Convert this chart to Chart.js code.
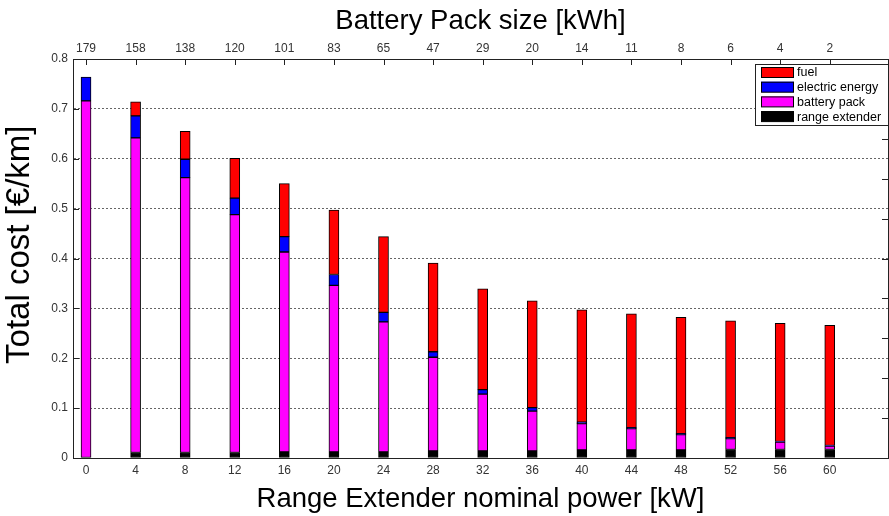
<!DOCTYPE html>
<html>
<head>
<meta charset="utf-8">
<script src="https://cdn.jsdelivr.net/npm/chart.js@4.4.1/dist/chart.umd.min.js"></script>
<style>
  html, body { margin: 0; padding: 0; background: #fff; }
  #wrap { width: 889px; height: 516px; }
</style>
</head>
<body>
<div id="wrap"><canvas id="chart"></canvas></div>
<script>
// range extender nominal power [kW] (bottom axis) and matching battery pack size [kWh] (top axis)
const powers = [0, 4, 8, 12, 16, 20, 24, 28, 32, 36, 40, 44, 48, 52, 56, 60];
const packSize = [179, 158, 138, 120, 101, 83, 65, 47, 29, 20, 14, 11, 8, 6, 4, 2];

// cost components [€/km], stacked bottom -> top
const rangeExtender = [0, 0.011, 0.011, 0.011, 0.012, 0.012, 0.012, 0.014, 0.014, 0.014, 0.016, 0.016, 0.016, 0.017, 0.017, 0.017];
const batteryPack = [0.716, 0.631, 0.551, 0.477, 0.401, 0.334, 0.261, 0.188, 0.114, 0.080, 0.053, 0.043, 0.031, 0.022, 0.015, 0.007];
const electricEnergy = [0.048, 0.044, 0.037, 0.033, 0.031, 0.022, 0.019, 0.011, 0.009, 0.007, 0.003, 0.002, 0.002, 0.002, 0.001, 0.001];
const fuel = [0, 0.028, 0.056, 0.080, 0.106, 0.129, 0.152, 0.178, 0.202, 0.214, 0.225, 0.228, 0.233, 0.234, 0.237, 0.241];

const FONT = '"Liberation Sans", Arial, sans-serif';

function series(label, values, color) {
    return {
        label: label,
        data: powers.map((p, i) => ({ x: p, y: values[i] })),
        backgroundColor: color,
        borderColor: '#000',
        borderWidth: 1,
        borderSkipped: false,
        barThickness: 10,
        xAxisID: 'x',
        yAxisID: 'y'
    };
}

// MATLAB style inward ticks on top, left and right axes
const inwardTicks = {
    id: 'inwardTicks',
    afterDraw(chart) {
        const ctx = chart.ctx;
        const area = chart.chartArea;
        const x = chart.scales.x;
        const y = chart.scales.y;
        const y2 = chart.scales.y2;
        ctx.save();
        ctx.strokeStyle = '#222';
        ctx.lineWidth = 1;
        ctx.beginPath();
        for (const p of powers) {
            const px = Math.round(x.getPixelForValue(p)) + 0.5;
            ctx.moveTo(px, area.top);
            ctx.lineTo(px, area.top + 6);
        }
        for (const t of y.ticks) {
            const py = Math.round(y.getPixelForValue(t.value)) + 0.5;
            ctx.moveTo(area.left, py);
            ctx.lineTo(area.left + 6, py);
        }
        for (const t of y2.ticks) {
            const py = Math.round(y2.getPixelForValue(t.value)) + 0.5;
            ctx.moveTo(area.right, py);
            ctx.lineTo(area.right - 6, py);
        }
        ctx.stroke();
        ctx.restore();
    }
};

// boxed legend in the upper right corner of the plot
const boxLegend = {
    id: 'boxLegend',
    afterDraw(chart) {
        const ctx = chart.ctx;
        const area = chart.chartArea;
        const items = chart.data.datasets.slice().reverse();
        const left = 755, top = 64, rowH = 14.7;
        ctx.save();
        ctx.fillStyle = '#fff';
        ctx.fillRect(left, top, area.right - left, 62);
        ctx.strokeStyle = '#222';
        ctx.lineWidth = 1;
        ctx.strokeRect(left + 0.5, top + 0.5, area.right - left, 61);
        ctx.font = '12.5px ' + FONT;
        ctx.textBaseline = 'middle';
        items.forEach((ds, i) => {
            const ry = top + 3 + i * rowH;
            ctx.fillStyle = ds.backgroundColor;
            ctx.fillRect(left + 6, ry, 33, 10.5);
            ctx.strokeStyle = '#000';
            ctx.strokeRect(left + 6.5, ry + 0.5, 32, 10);
            ctx.fillStyle = '#000';
            ctx.fillText(ds.label, left + 42, ry + 6);
        });
        ctx.restore();
    }
};

new Chart(document.getElementById('chart'), {
    type: 'bar',
    data: {
        datasets: [
            series('range extender', rangeExtender, '#000000'),
            series('battery pack', batteryPack, '#ff00ff'),
            series('electric energy', electricEnergy, '#0000ff'),
            series('fuel', fuel, '#ff0000')
        ]
    },
    options: {
        responsive: true,
        maintainAspectRatio: false,
        animation: false,
        layout: { padding: 0 },
        plugins: {
            legend: { display: false },
            tooltip: { enabled: false }
        },
        scales: {
            x: {
                type: 'linear',
                position: 'bottom',
                stacked: true,
                offset: false,
                min: -1.05,
                max: 64.7,
                afterBuildTicks: (s) => { s.ticks = powers.map(v => ({ value: v })); },
                afterFit: (s) => { s.height = 58; },
                ticks: {
                    padding: 5,
                    color: '#333',
                    font: { family: FONT, size: 12 },
                    callback: (v) => String(v)
                },
                grid: { drawOnChartArea: false, drawTicks: false },
                border: { color: '#222', width: 1 },
                title: {
                    display: true,
                    text: 'Range Extender nominal power [kW]',
                    color: '#000',
                    font: { family: FONT, size: 27.5 },
                    padding: { top: 0, bottom: 0 }
                }
            },
            x2: {
                type: 'linear',
                position: 'top',
                offset: false,
                min: -1.05,
                max: 64.7,
                afterBuildTicks: (s) => { s.ticks = powers.map(v => ({ value: v })); },
                afterFit: (s) => { s.height = 59; },
                ticks: {
                    padding: 3,
                    color: '#333',
                    font: { family: FONT, size: 12 },
                    callback: (v) => String(packSize[powers.indexOf(v)])
                },
                grid: { drawOnChartArea: false, drawTicks: false },
                border: { color: '#222', width: 1 },
                title: {
                    display: true,
                    text: 'Battery Pack size [kWh]',
                    color: '#000',
                    font: { family: FONT, size: 27.5 },
                    padding: { top: 5, bottom: 0 }
                }
            },
            y: {
                stacked: true,
                min: 0,
                max: 0.8,
                afterFit: (s) => { s.width = 73; },
                ticks: {
                    stepSize: 0.1,
                    padding: 5,
                    color: '#333',
                    font: { family: FONT, size: 12 },
                    callback: (v) => v === 0 ? '0' : v.toFixed(1)
                },
                grid: {
                    color: '#666',
                    lineWidth: 1,
                    drawTicks: false
                },
                border: { color: '#222', width: 1, dash: [2, 2] },
                title: {
                    display: true,
                    text: '   Total cost [€/km]',
                    color: '#000',
                    font: { family: FONT, size: 33 },
                    padding: { top: 0, bottom: 0, left: 8 }
                }
            },
            y2: {
                position: 'right',
                min: 0,
                max: 10,
                afterFit: (s) => { s.width = 1; },
                ticks: { display: false, stepSize: 1 },
                grid: { drawOnChartArea: false, drawTicks: false },
                border: { color: '#222', width: 1 }
            }
        }
    },
    plugins: [inwardTicks, boxLegend]
});
</script>
</body>
</html>
